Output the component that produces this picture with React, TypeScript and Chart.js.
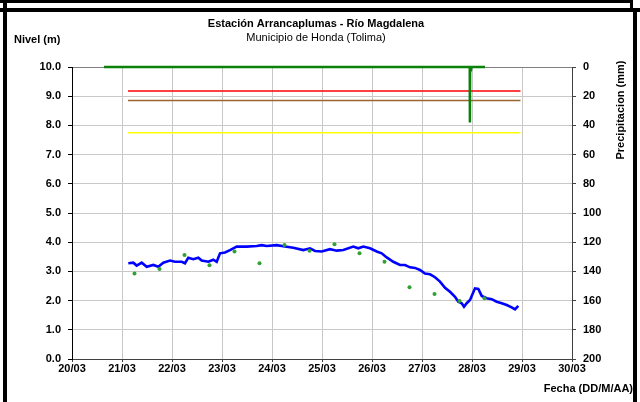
import React, { useEffect, useRef } from "react";
import { Chart, registerables } from "chart.js";

Chart.register(...registerables);

const levelDays = [21.126, 21.226, 21.294, 21.394, 21.494, 21.626, 21.726, 21.826, 21.96, 22.06, 22.194, 22.26, 22.326, 22.426, 22.526, 22.594, 22.726, 22.826, 22.894, 22.96, 23.06, 23.16, 23.294, 23.494, 23.694, 23.794, 23.894, 24.094, 24.26, 24.426, 24.626, 24.76, 24.86, 24.994, 25.16, 25.294, 25.426, 25.626, 25.726, 25.826, 25.96, 26.094, 26.194, 26.294, 26.426, 26.56, 26.66, 26.76, 26.86, 26.96, 27.06, 27.16, 27.26, 27.36, 27.46, 27.56, 27.66, 27.726, 27.794, 27.84, 27.894, 27.96, 28.06, 28.126, 28.194, 28.294, 28.394, 28.494, 28.594, 28.694, 28.794, 28.86, 28.926];
const levelValues = [3.28, 3.3, 3.2, 3.3, 3.16, 3.22, 3.16, 3.3, 3.37, 3.33, 3.33, 3.28, 3.47, 3.42, 3.47, 3.37, 3.33, 3.4, 3.33, 3.62, 3.65, 3.73, 3.85, 3.85, 3.87, 3.9, 3.87, 3.9, 3.85, 3.81, 3.73, 3.79, 3.7, 3.68, 3.76, 3.71, 3.73, 3.85, 3.79, 3.85, 3.79, 3.68, 3.62, 3.48, 3.33, 3.22, 3.22, 3.14, 3.12, 3.05, 2.93, 2.9, 2.8, 2.65, 2.44, 2.3, 2.13, 1.96, 1.91, 1.79, 1.91, 2.02, 2.42, 2.4, 2.16, 2.08, 2.05, 1.96, 1.91, 1.85, 1.77, 1.7, 1.82];

const readingDays = [21.25, 21.75, 22.25, 22.75, 23.25, 23.75, 24.25, 24.75, 25.25, 25.75, 26.25, 26.75, 27.25, 27.75, 28.25];
const readingValues = [2.93, 3.08, 3.56, 3.21, 3.68, 3.28, 3.9, 3.71, 3.93, 3.62, 3.33, 2.46, 2.23, 1.99, 2.08];

const rainDays = [20.64, 27.955, 27.958, 27.962, 27.975, 27.99, 28.26];
const rainValues = [0, 0, 38, 0, 3, 0, 0];

const thresholdDays = [21.12, 28.97];
const redLevel = 9.18;
const orangeLevel = 8.85;
const yellowLevel = 7.75;

const xTicks = [20, 21, 22, 23, 24, 25, 26, 27, 28, 29, 30];

const FONT = "'Liberation Sans', Arial, sans-serif";

const pts = (xs: number[], ys: number[]) => xs.map((x, i) => ({ x, y: ys[i] }));

export default function App() {
  const ref = useRef<HTMLCanvasElement>(null);
  useEffect(() => {
    const canvas = ref.current!;
    const overlay = {
      id: "overlay",
      afterDraw(chart: any) {
        const ctx = chart.ctx;
        ctx.save();
        ctx.fillStyle = "#000";
        // frame
        ctx.fillRect(0, 0, 633, 3);
        ctx.fillRect(630, 0, 3, 10);
        ctx.fillRect(0, 8, 640, 4);
        ctx.fillRect(3, 0, 4, 402);
        ctx.fillRect(633, 8, 4, 394);
        ctx.textBaseline = "middle";
        ctx.textAlign = "center";
        ctx.font = `bold 11px ${FONT}`;
        ctx.fillText("Estación Arrancaplumas - Río Magdalena", 316, 24);
        ctx.font = `11px ${FONT}`;
        ctx.fillText("Municipio de Honda (Tolima)", 316, 38);
        ctx.font = `bold 11px ${FONT}`;
        ctx.textAlign = "left";
        ctx.fillText("Nivel (m)", 14, 40);
        ctx.textAlign = "right";
        ctx.fillText("Fecha (DD/M/AA)", 633, 389);
        ctx.translate(621, 110);
        ctx.rotate(-Math.PI / 2);
        ctx.textAlign = "center";
        ctx.fillText("Precipitacion (mm)", 0, 0);
        ctx.restore();
      },
    };
    const chart = new Chart(canvas, {
      type: "line",
      data: {
        datasets: [
          {
            label: "Lecturas",
            data: pts(readingDays, readingValues),
            showLine: false,
            pointRadius: 2,
            pointBackgroundColor: "#33A033",
            pointBorderWidth: 0,
            yAxisID: "y",
            order: 0,
          },
          {
            label: "Nivel",
            data: pts(levelDays, levelValues),
            borderColor: "#0000FF",
            borderWidth: 2.6,
            pointRadius: 0,
            tension: 0,
            yAxisID: "y",
            order: 1,
          },
          {
            label: "Precipitación",
            data: pts(rainDays, rainValues),
            borderColor: "#0A820A",
            borderWidth: 2.5,
            pointRadius: 0,
            clip: 4,
            yAxisID: "y2",
            order: 2,
          },
          {
            label: "Roja",
            data: pts(thresholdDays, [redLevel, redLevel]),
            borderColor: "#FF0000",
            borderWidth: 1.5,
            pointRadius: 0,
            yAxisID: "y",
            order: 3,
          },
          {
            label: "Naranja",
            data: pts(thresholdDays, [orangeLevel, orangeLevel]),
            borderColor: "#996633",
            borderWidth: 1.5,
            pointRadius: 0,
            yAxisID: "y",
            order: 3,
          },
          {
            label: "Amarilla",
            data: pts(thresholdDays, [yellowLevel, yellowLevel]),
            borderColor: "#FFFF00",
            borderWidth: 1.5,
            pointRadius: 0,
            yAxisID: "y",
            order: 3,
          },
        ],
      },
      options: {
        animation: false,
        responsive: false,
        devicePixelRatio: 1,
        layout: { padding: { top: 67, left: 0, right: 0, bottom: 0 } },
        plugins: { legend: { display: false }, tooltip: { enabled: false }, title: { display: false } },
        scales: {
          x: {
            type: "linear",
            min: 20,
            max: 30,
            afterBuildTicks: (s: any) => {
              s.ticks = xTicks.map((v) => ({ value: v }));
            },
            afterFit: (s: any) => {
              s.height = 43;
            },
            ticks: {
              color: "#000",
              font: { family: FONT, size: 11, weight: "bold" },
              padding: 0,
              maxRotation: 0,
              callback: (v: any) => `${v}/03`,
            },
            grid: { color: "#C8C8C8", tickLength: 3, tickColor: "#404040" },
            border: { color: "#404040", width: 1 },
          },
          y: {
            position: "left",
            min: 0,
            max: 10,
            afterFit: (s: any) => {
              s.width = 72;
            },
            ticks: {
              stepSize: 1,
              color: "#000",
              padding: 7,
              font: { family: FONT, size: 11, weight: "bold" },
              callback: (v: any) => Number(v).toFixed(1),
            },
            grid: {
              color: (c: any) => (c.tick && c.tick.value === 10 ? "#808080" : "#C8C8C8"),
              tickLength: 4,
              tickColor: "#000",
            },
            border: { color: "#000", width: 1 },
          },
          y2: {
            position: "right",
            min: 0,
            max: 200,
            reverse: true,
            afterFit: (s: any) => {
              s.width = 68;
            },
            ticks: {
              stepSize: 20,
              color: "#000",
              padding: 7,
              font: { family: FONT, size: 11, weight: "bold" },
            },
            grid: { drawOnChartArea: false, tickLength: 4, tickColor: "#404040" },
            border: { color: "#404040", width: 1 },
          },
        },
      },
      plugins: [overlay],
    } as any);
    return () => chart.destroy();
  }, []);
  return (
    <div style={{ position: "fixed", left: 0, top: 0, width: 640, height: 402, background: "#fff" }}>
      <canvas ref={ref} width={640} height={402} style={{ width: 640, height: 402, display: "block" }} />
    </div>
  );
}
